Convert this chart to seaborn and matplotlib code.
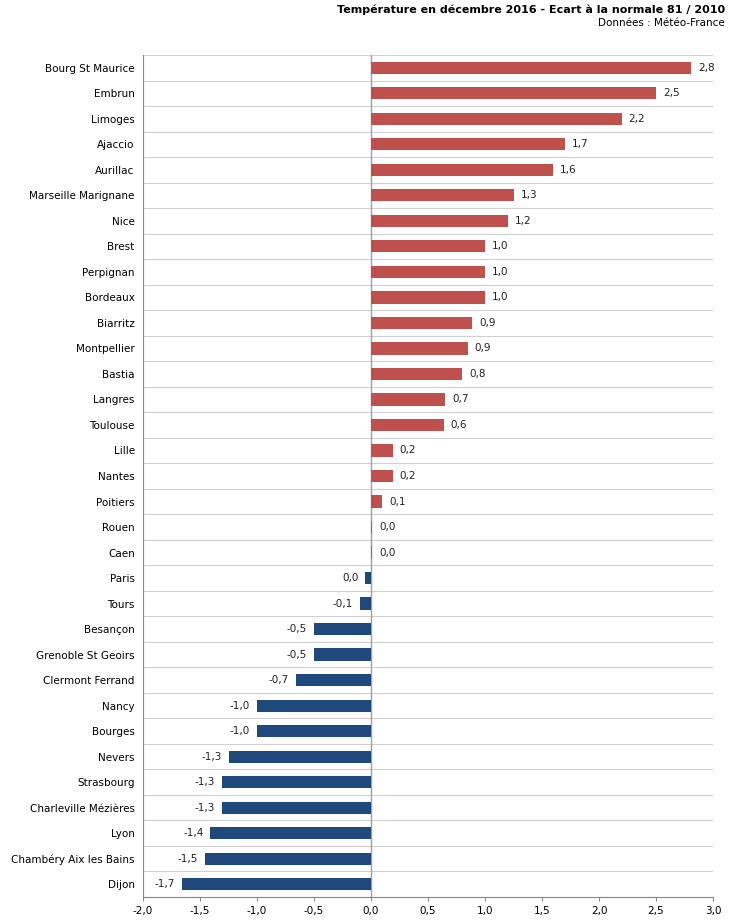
import matplotlib
matplotlib.use("Agg")
import matplotlib.pyplot as plt
import seaborn as sns
import pandas as pd
import numpy as np

cities = ["Bourg St Maurice","Embrun","Limoges","Ajaccio","Aurillac","Marseille Marignane","Nice","Brest","Perpignan","Bordeaux","Biarritz","Montpellier","Bastia","Langres","Toulouse","Lille","Nantes","Poitiers","Rouen","Caen","Paris","Tours","Besançon","Grenoble St Geoirs","Clermont Ferrand","Nancy","Bourges","Nevers","Strasbourg","Charleville Mézières","Lyon","Chambéry Aix les Bains","Dijon"]
values = [2.81,2.50,2.20,1.70,1.60,1.25,1.20,1.00,1.00,1.00,0.89,0.85,0.80,0.65,0.64,0.19,0.19,0.10,0.01,0.01,-0.05,-0.10,-0.50,-0.50,-0.66,-1.00,-1.00,-1.25,-1.31,-1.31,-1.41,-1.46,-1.66]
labels = ["2,8","2,5","2,2","1,7","1,6","1,3","1,2","1,0","1,0","1,0","0,9","0,9","0,8","0,7","0,6","0,2","0,2","0,1","0,0","0,0","0,0","-0,1","-0,5","-0,5","-0,7","-1,0","-1,0","-1,3","-1,3","-1,3","-1,4","-1,5","-1,7"]
xticks = [-2.0,-1.5,-1.0,-0.5,0.0,0.5,1.0,1.5,2.0,2.5,3.0]

df = pd.DataFrame({"city": cities, "value": values})
red, blue = "#c0504d", "#1f497d"
palette = [red if v >= 0 and i < 20 else blue for i, v in enumerate(values)]

fig = plt.figure(figsize=(7.3, 9.21), dpi=100)
ax = fig.add_axes([143/730, 1-897/921, 570/730, (897-55)/921])
sns.barplot(data=df, x="value", y="city", hue="city", palette=palette, legend=False,
            orient="h", width=0.48, saturation=1, ax=ax, zorder=3)
n = len(cities)
for i in range(n + 1):
    ax.axhline(i - 0.5, color="#d0d0d0", lw=0.8, zorder=1)
ax.axvline(0, color="#a0a0a0", lw=1, zorder=2)
for i, (v, l) in enumerate(zip(values, labels)):
    if i < 20:
        ax.text(max(v, 0) + 0.06, i, l, va="center", ha="left", fontsize=7.5, color="#222")
    else:
        ax.text(v - 0.06, i, l, va="center", ha="right", fontsize=7.5, color="#222")
ax.set_xlim(-2.0, 3.0)
ax.set_ylim(n - 0.5, -0.5)
ax.set_xticks(xticks)
ax.set_xticklabels([f"{t:.1f}".replace(".", ",") for t in xticks], fontsize=7.5)
ax.tick_params(axis="y", labelsize=7.5, length=0, pad=6)
ax.tick_params(axis="x", length=3, color="#888")
ax.set_xlabel(""); ax.set_ylabel("")
for s in ["top", "right"]:
    ax.spines[s].set_visible(False)
ax.spines["left"].set_color("#888")
ax.spines["bottom"].set_color("#888")
fig.text(725/730, 1-10/921, "Température en décembre 2016 - Ecart à la normale 81 / 2010",
         ha="right", va="center", fontsize=8, fontweight="bold")
fig.text(725/730, 1-23/921, "Données : Météo-France", ha="right", va="center", fontsize=7.5)
fig.savefig("out.png", dpi=100)
